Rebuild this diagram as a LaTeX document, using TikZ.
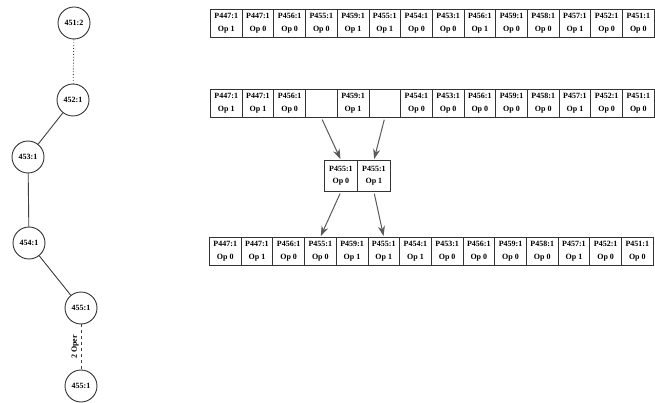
\documentclass[tikz,border=0pt]{standalone}
\usepackage{fontspec}
\setmainfont{Liberation Serif}
\usetikzlibrary{arrows.meta}
\begin{document}
\begin{tikzpicture}[x=1pt,y=-1pt,
  cell/.style={draw=black!80, line width=0.8pt, minimum width=31.7pt, minimum height=28pt, inner sep=0pt, anchor=north west, align=center, font=\fontsize{8}{12.5}\selectfont\bfseries},
  mcell/.style={cell, minimum width=33pt, minimum height=31pt},
  tnode/.style={circle, draw=black!80, line width=0.9pt, minimum size=32pt, inner sep=0pt, font=\fontsize{8}{9}\selectfont\bfseries},
  link/.style={draw=black!75, line width=0.9pt},
  flow/.style={draw=black!65, line width=1pt, shorten <=2pt, shorten >=1pt, -{Stealth[length=10pt,width=7pt]}}]
\useasboundingbox (0,0) rectangle (655,403);
\clip (0,0) rectangle (655,403);

% tree
\node[tnode] (t1) at (74,23) {451:2};
\node[tnode] (t2) at (73,100) {452:1};
\node[tnode] (t3) at (28,157) {453:1};
\node[tnode] (t4) at (29,243) {454:1};
\node[tnode] (t5) at (81,308) {455:1};
\node[tnode] (t6) at (81,386) {455:1};
\draw[link, dotted] (t1) -- (t2);
\draw[link] (t2) -- (t3);
\draw[link] (t3) -- (t4);
\draw[link] (t4) -- (t5);
\draw[link, dashed] (t5) -- node[midway, rotate=90, anchor=south, inner sep=2pt, font=\fontsize{8}{9}\selectfont\bfseries] {2 Oper} (t6);

% row 1
\foreach \t/\o [count=\i] in {P447:1/Op 1, P447:1/Op 0, P456:1/Op 0, P455:1/Op 0, P459:1/Op 1, P455:1/Op 1, P454:1/Op 0, P453:1/Op 0, P456:1/Op 1, P459:1/Op 0, P458:1/Op 0, P457:1/Op 1, P452:1/Op 0, P451:1/Op 0}
  \node[cell] (r1c\i) at ({210+(\i-1)*31.7},9) {\t\\\o};

% row 2
\foreach \t/\o [count=\i] in {P447:1/Op 1, P447:1/Op 1, P456:1/Op 0, {}/{}, P459:1/Op 1, {}/{}, P454:1/Op 0, P453:1/Op 0, P456:1/Op 0, P459:1/Op 0, P458:1/Op 0, P457:1/Op 1, P452:1/Op 0, P451:1/Op 0}
  \node[cell] (r2c\i) at ({210+(\i-1)*31.7},89) {\t\\\o};

% middle box
\node[mcell] (m1) at (324,160) {P455:1\\Op 0};
\node[mcell] (m2) at (357,160) {P455:1\\Op 1};

% row 3
\foreach \t/\o [count=\i] in {P447:1/Op 0, P447:1/Op 1, P456:1/Op 0, P455:1/Op 0, P459:1/Op 1, P455:1/Op 1, P454:1/Op 1, P453:1/Op 0, P456:1/Op 0, P459:1/Op 0, P458:1/Op 0, P457:1/Op 1, P452:1/Op 0, P451:1/Op 0}
  \node[cell] (r3c\i) at ({209+(\i-1)*31.7},237) {\t\\\o};

% arrows
\draw[flow] (r2c4.south) -- (m1.north);
\draw[flow] (r2c6.south) -- (m2.north);
\draw[flow] (m1.south) -- (r3c4.north);
\draw[flow] (m2.south) -- (r3c6.north);
\end{tikzpicture}
\end{document}
